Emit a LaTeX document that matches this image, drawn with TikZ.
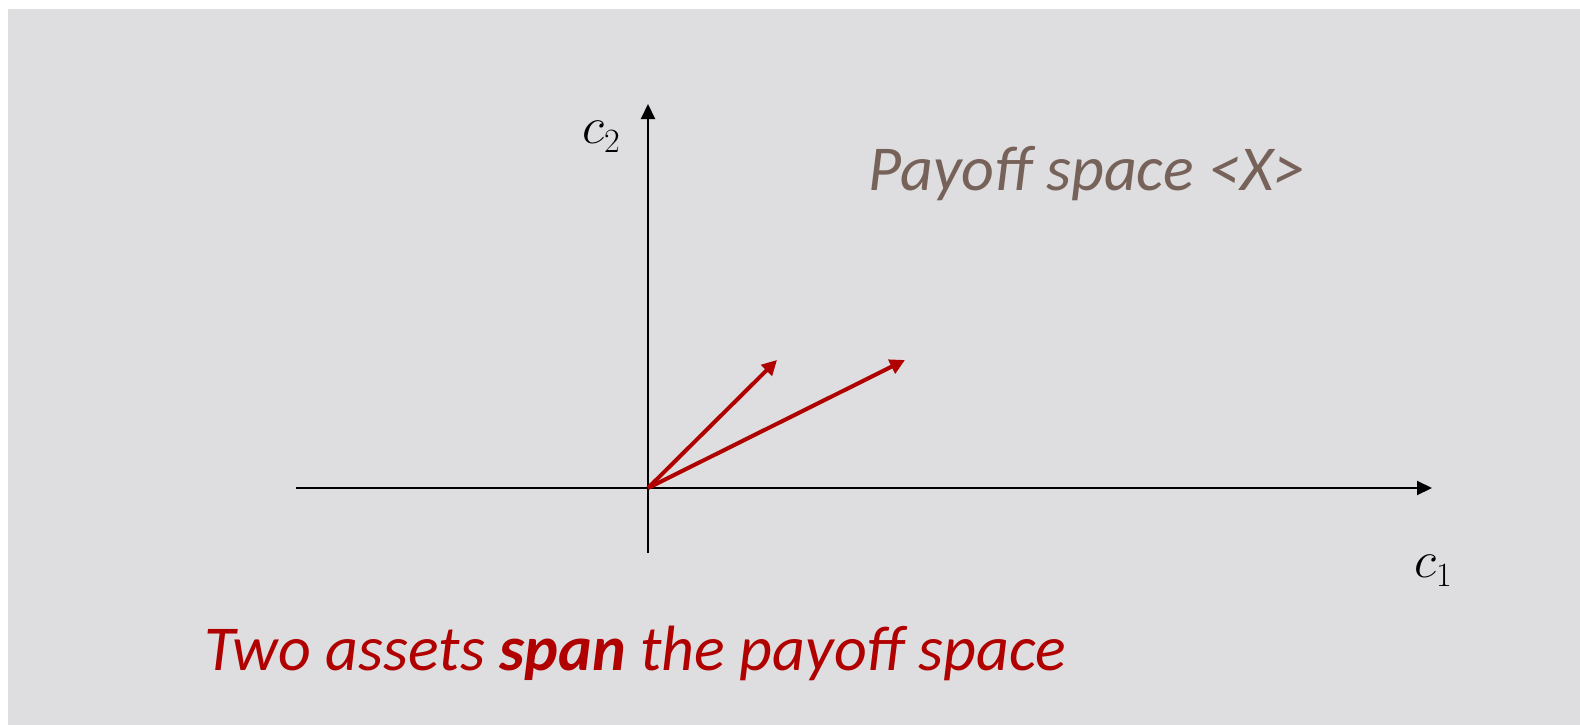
\RequirePackage{fix-cm}
\documentclass[tikz,border=0pt]{standalone}
\usepackage{fontspec}
\setmainfont{Carlito}
\usetikzlibrary{arrows.meta}
\definecolor{bggray}{HTML}{DEDEE0}
\definecolor{payoffbrown}{HTML}{766259}
\definecolor{assetred}{HTML}{B00000}
\tikzset{
  axisline/.style={line width=2pt, black, -{Triangle[length=15pt,width=14pt]}},
  assetvec/.style={line width=4pt, assetred, -{Triangle[length=15pt,width=15pt]}},
  axislabel/.style={font=\fontsize{52}{56}\selectfont, inner sep=0pt, anchor=base west},
}
\newcommand{\axsub}[1]{\raisebox{-9pt}{\fontsize{34}{38}\selectfont$#1$}}
\begin{document}
\begin{tikzpicture}[x=1pt,y=-1pt]
\useasboundingbox (0,0) rectangle (1580,725);
\fill[bggray] (8,9) rectangle (1580,725);
% axis points
\coordinate (O) at (648,488);
\coordinate (xs) at (296,488);
\coordinate (xe) at (1432,488);
\coordinate (ys) at (648,553);
\coordinate (ye) at (648,104);
\coordinate (a1) at (777,360);
\coordinate (a2) at (905,360);
\draw[axisline] (xs) -- (xe);
\draw[axisline] (ys) -- (ye);
\draw[assetvec] (O) -- (a1);
\draw[assetvec] (O) -- (a2);
\node[axislabel] (c2) at (582,143) {$c$\axsub{2}};
\node[axislabel] (c1) at (1414,577) {$c$\axsub{1}};
\node[inner sep=0pt, anchor=base west, text=payoffbrown, font=\fontsize{64}{74}\selectfont\itshape] (payoff) at (868,190) {Payoff space <X>};
\node[inner sep=0pt, anchor=base west, text=assetred, font=\fontsize{64}{74}\selectfont\itshape] (caption) at (204,670) {Two assets \textbf{span} the payoff space};
\end{tikzpicture}
\end{document}
